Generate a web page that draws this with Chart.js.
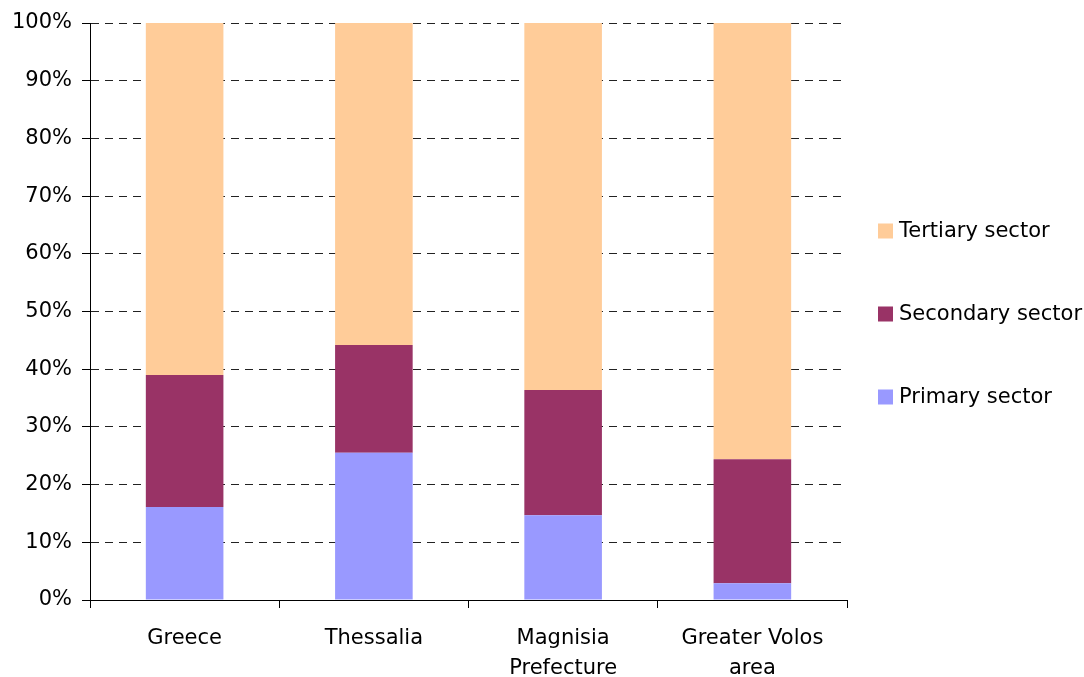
<!DOCTYPE html>
<html>
<head>
<meta charset="utf-8">
<script src="https://cdn.jsdelivr.net/npm/chart.js@4.4.1/dist/chart.umd.min.js"></script>
<style>
  body { margin: 0; background: #fff; }
  #wrap { width: 1084px; height: 677px; position: relative; }
</style>
</head>
<body>
<div id="wrap"><canvas id="sectorChart"></canvas></div>
<script>
// categories and shares (%)
const regions = ['Greece', 'Thessalia', ['Magnisia', 'Prefecture'], ['Greater Volos', 'area']];
const primary = [16.1, 25.5, 14.7, 2.9];
const secondary = [22.9, 18.7, 21.7, 21.5];
const tertiary = [61.0, 55.8, 63.6, 75.6];
const seriesNames = ['Primary sector', 'Secondary sector', 'Tertiary sector'];
const seriesColors = ['#9999FF', '#993366', '#FFCC99'];

const fontFamily = '"DejaVu Sans", Verdana, sans-serif';

// legend on the right, drawn by hand so the spacing matches
const sideLegend = {
    id: 'sideLegend',
    afterDraw(chart) {
        const ctx = chart.ctx;
        const area = chart.chartArea;
        const mid = (area.top + area.bottom) / 2 + 2;
        const step = 83;
        const sets = chart.data.datasets;
        ctx.save();
        ctx.font = '21px ' + fontFamily;
        ctx.textBaseline = 'middle';
        // reversed order: top item is the top of the stack
        for (let i = sets.length - 1, k = 0; i >= 0; i--, k++) {
            const y = mid + (k - 1) * step;
            ctx.fillStyle = sets[i].backgroundColor;
            ctx.fillRect(area.right + 31, y - 7, 15, 15);
            ctx.fillStyle = '#000';
            ctx.fillText(sets[i].label, area.right + 52, y + 1);
        }
        ctx.restore();
    }
};

const ctx = document.getElementById('sectorChart').getContext('2d');

new Chart(ctx, {
    type: 'bar',
    data: {
        labels: regions,
        datasets: [
            { label: seriesNames[0], data: primary, backgroundColor: seriesColors[0] },
            { label: seriesNames[1], data: secondary, backgroundColor: seriesColors[1] },
            { label: seriesNames[2], data: tertiary, backgroundColor: seriesColors[2] }
        ]
    },
    options: {
        responsive: true,
        maintainAspectRatio: false,
        animation: false,
        layout: { padding: { top: 23, right: 237, bottom: 0, left: 0 } },
        datasets: {
            bar: { barPercentage: 0.41, categoryPercentage: 1.0, borderWidth: 0 }
        },
        plugins: {
            legend: { display: false },
            tooltip: { enabled: false }
        },
        scales: {
            x: {
                stacked: true,
                afterFit: s => { s.height = 77; },
                grid: {
                    offset: true,
                    drawOnChartArea: false,
                    color: '#000',
                    tickLength: 8
                },
                border: { color: '#000', width: 1 },
                ticks: {
                    color: '#000',
                    padding: 16,
                    maxRotation: 0,
                    font: { family: fontFamily, size: 21, lineHeight: 1.4 }
                }
            },
            y: {
                stacked: true,
                min: 0,
                max: 100,
                afterFit: s => { s.width = 90; },
                grid: {
                    color: '#222',
                    lineWidth: 1,
                    tickLength: 8,
                    tickColor: '#000',
                    tickBorderDash: []
                },
                border: { color: '#000', width: 1, dash: [8, 6] },
                ticks: {
                    stepSize: 10,
                    color: '#000',
                    padding: 10,
                    font: { family: fontFamily, size: 21 },
                    callback: v => v + '%'
                }
            }
        }
    },
    plugins: [sideLegend]
});
</script>
</body>
</html>
